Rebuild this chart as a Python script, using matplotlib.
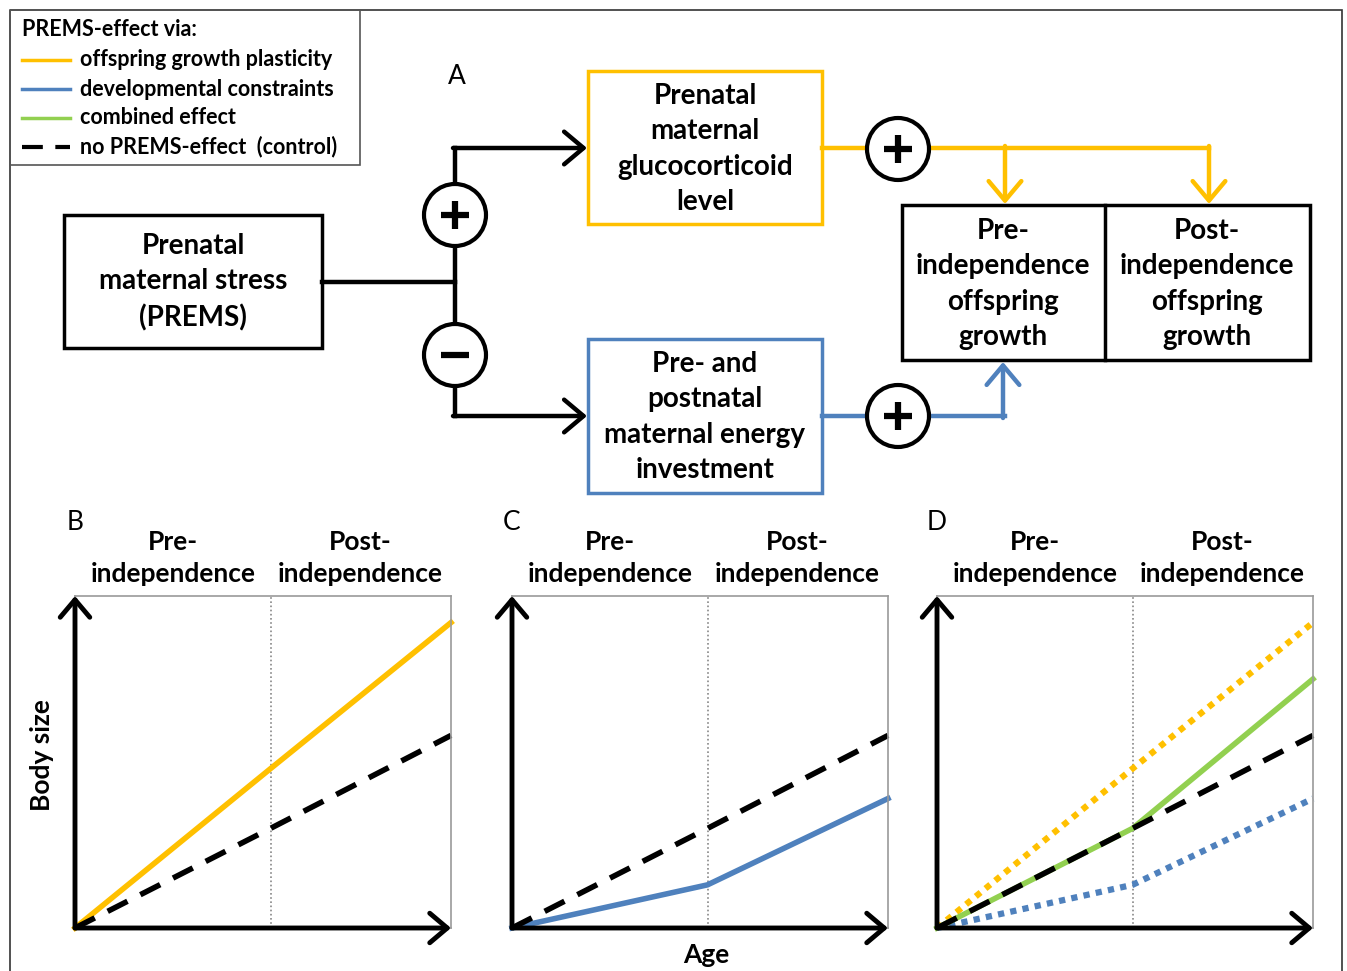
import matplotlib
matplotlib.use("Agg")
import matplotlib.pyplot as plt
from matplotlib.patches import Rectangle, Circle

plt.rcParams['font.family'] = ['Lato', 'DejaVu Sans']

# growth trajectories: age (0..1) with the independence break, body size (0..1)
age = [0, 0.52, 1]
control = [0, 0.30, 0.58]
plasticity = [0, 0.48, 0.92]
constraints = [0, 0.13, 0.39]
combined = [0, 0.30, 0.75]

legend_labels = ['offspring growth plasticity', 'developmental constraints',
                 'combined effect', 'no PREMS-effect  (control)']
phase_labels = ['Pre-\nindependence', 'Post-\nindependence']

ORANGE = '#FFC000'
BLUE = '#4F81BD'
GREEN = '#92D050'

W, H = 1347, 971
fig = plt.figure(figsize=(W / 100, H / 100), dpi=100)

# overlay axes in pixel coordinates for the diagram part
ov = fig.add_axes([0, 0, 1, 1])
ov.set_xlim(0, W)
ov.set_ylim(H, 0)
ov.axis('off')

ov.add_patch(Rectangle((10, 10), 1332, 975, fill=False, ec='#333333', lw=1.2, clip_on=True))

# legend box
ov.add_patch(Rectangle((10, 10), 350, 155, fill=False, ec='#555555', lw=1.2))
ov.text(22, 29, 'PREMS-effect via:', fontsize=15.5, fontweight='bold', va='center')
rows_y = [60, 89, 118, 147]
ov.plot([22, 70], [rows_y[0]] * 2, color=ORANGE, lw=2.5)
ov.plot([22, 70], [rows_y[1]] * 2, color=BLUE, lw=2.5)
ov.plot([22, 70], [rows_y[2]] * 2, color=GREEN, lw=2.5)
ov.plot([22, 70], [rows_y[3]] * 2, color='black', lw=3, dashes=(5, 3))
for yy, lab in zip(rows_y, legend_labels):
    ov.text(80, yy, lab, fontsize=15.5, fontweight='bold', va='center')

ov.text(457, 77, 'A', fontsize=19, ha='center', va='center')

box_kw = dict(fontsize=20, fontweight='bold', ha='center', va='center', linespacing=1.45)


def arrow(x0, y0, x1, y1, color='black'):
    ov.annotate('', xy=(x1, y1), xytext=(x0, y0),
                arrowprops=dict(arrowstyle='->,head_length=0.5,head_width=0.42',
                                color=color, lw=3.2, mutation_scale=28,
                                shrinkA=0, shrinkB=0))


def sign_circle(cx, cy, plus=True):
    ov.add_patch(Circle((cx, cy), 31, fc='white', ec='black', lw=3, zorder=5))
    ov.plot([cx - 14, cx + 14], [cy, cy], color='black', lw=4.5, zorder=6, solid_capstyle='butt')
    if plus:
        ov.plot([cx, cx], [cy - 14, cy + 14], color='black', lw=4.5, zorder=6, solid_capstyle='butt')


# PREMS box and branching
ov.add_patch(Rectangle((64, 215), 258, 133, fill=False, ec='black', lw=2.5))
ov.text(193, 282, 'Prenatal\nmaternal stress\n(PREMS)', **box_kw)
ov.plot([322, 455], [282, 282], color='black', lw=3.2)
ov.plot([455, 455], [148, 416], color='black', lw=3.2)
arrow(453, 148, 587, 148)
arrow(453, 416, 587, 416)
sign_circle(455, 215, True)
sign_circle(455, 355, False)

# glucocorticoid box
ov.add_patch(Rectangle((588, 71), 234, 153, fill=False, ec=ORANGE, lw=2.5))
ov.text(705, 149, 'Prenatal\nmaternal\nglucocorticoid\nlevel', **box_kw)
ov.plot([822, 1209], [148, 148], color=ORANGE, lw=3.2)
arrow(1005, 146, 1005, 204, ORANGE)
arrow(1209, 146, 1209, 204, ORANGE)
sign_circle(898, 149, True)

# energy investment box
ov.add_patch(Rectangle((588, 339), 234, 154, fill=False, ec=BLUE, lw=2.5))
ov.text(705, 417, 'Pre- and\npostnatal\nmaternal energy\ninvestment', **box_kw)
ov.plot([822, 1005], [416, 416], color=BLUE, lw=3.2)
arrow(1003, 418, 1003, 362, BLUE)
sign_circle(898, 416, True)

# offspring growth boxes
ov.add_patch(Rectangle((902, 205), 408, 155, fill=False, ec='black', lw=2.5))
ov.plot([1105, 1105], [205, 360], color='black', lw=2.5)
ov.text(1003, 284, 'Pre-\nindependence\noffspring\ngrowth', **box_kw)
ov.text(1207, 284, 'Post-\nindependence\noffspring\ngrowth', **box_kw)

# bottom panels
panels = [('B', 75), ('C', 512), ('D', 937)]
pw, ph, pbot = 376, 332, 928
head = '->,head_length=0.45,head_width=0.38'
axes = []
for letter, x0 in panels:
    ax = fig.add_axes([x0 / W, (H - pbot) / H, pw / W, ph / H])
    ax.set_xlim(0, 1)
    ax.set_ylim(0, 1)
    ax.set_xticks([])
    ax.set_yticks([])
    for s in ax.spines.values():
        s.set_color('#9a9a9a')
        s.set_linewidth(1.2)
    ax.axvline(age[1], color='#888888', lw=1.2, ls=(0, (1, 1.5)))
    ax.annotate('', xy=(0, 1.0), xytext=(0, 0), xycoords='axes fraction',
                arrowprops=dict(arrowstyle=head, color='black', lw=3.5, mutation_scale=28,
                                shrinkA=0, shrinkB=0), annotation_clip=False)
    ax.annotate('', xy=(1.0, 0), xytext=(0, 0), xycoords='axes fraction',
                arrowprops=dict(arrowstyle=head, color='black', lw=3.5, mutation_scale=28,
                                shrinkA=0, shrinkB=0), annotation_clip=False)
    ov.text(x0, 522, letter, fontsize=19, ha='center', va='center')
    ov.text(x0 + 98, 558, phase_labels[0], fontsize=19, fontweight='bold',
            ha='center', va='center', linespacing=1.45)
    ov.text(x0 + 285, 558, phase_labels[1], fontsize=19, fontweight='bold',
            ha='center', va='center', linespacing=1.45)
    axes.append(ax)

axB, axC, axD = axes
dash = dict(color='black', lw=4, dashes=(4, 2.6))
dot = dict(lw=4.5, dashes=(1, 1))

axB.plot(age, plasticity, color=ORANGE, lw=4, clip_on=False)
axB.plot(age, control, **dash, clip_on=False)

axC.plot(age, constraints, color=BLUE, lw=4, clip_on=False)
axC.plot(age, control, **dash, clip_on=False)

axD.plot(age, plasticity, color=ORANGE, **dot, clip_on=False)
axD.plot(age, constraints, color=BLUE, **dot, clip_on=False)
axD.plot(age, combined, color=GREEN, lw=4, clip_on=False)
axD.plot(age, control, **dash, clip_on=False)

ov.text(42, 755, 'Body size', fontsize=19, fontweight='bold', rotation=90,
        ha='center', va='center')
ov.text(706, 955, 'Age', fontsize=19, fontweight='bold', ha='center', va='center')

fig.savefig('out.png', dpi=100)
